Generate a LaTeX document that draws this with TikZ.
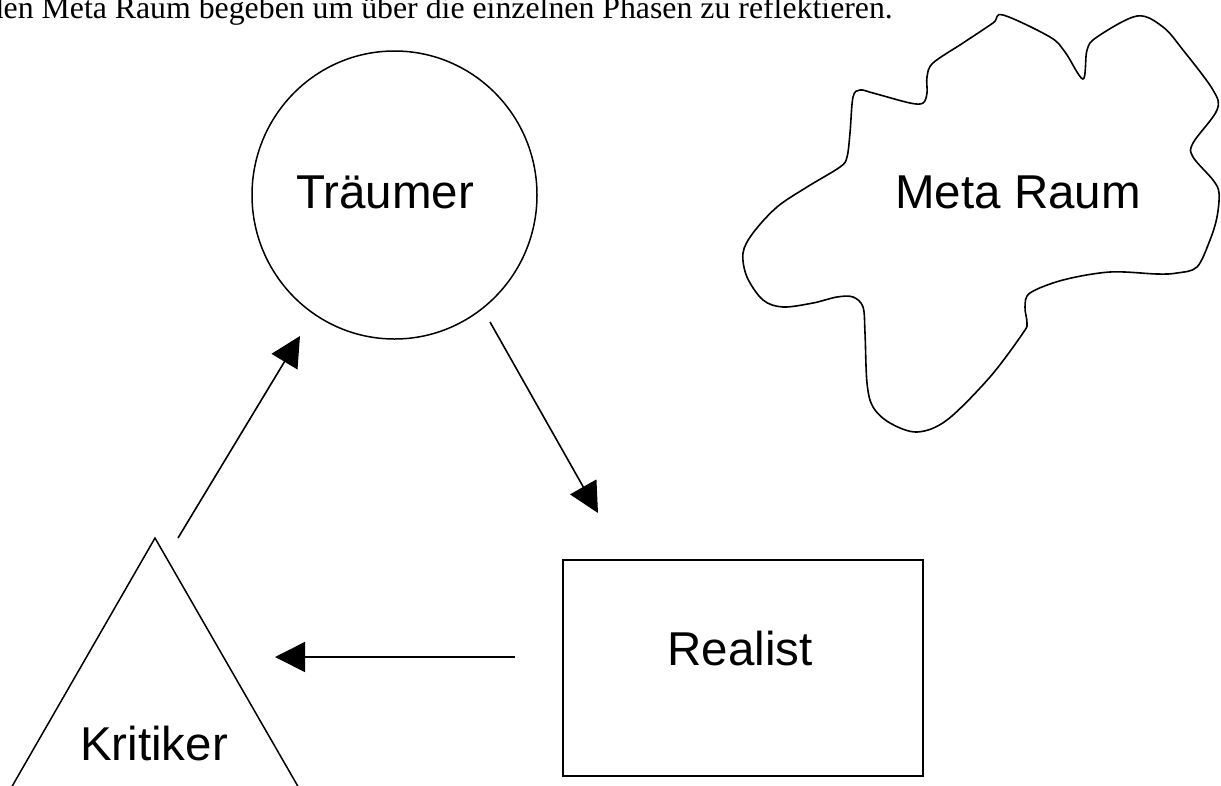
\documentclass[tikz,border=0pt]{standalone}
\usepackage{fontspec}
\setmainfont{Liberation Serif}
\newfontfamily\arial{Liberation Sans}
\usetikzlibrary{arrows.meta,shapes.geometric}
\tikzset{
  shapeline/.style={draw=black, line width=1.5pt},
  conn/.style={draw=black, line width=1.6pt, -{Triangle[length=30pt,width=30pt]}},
  lbl/.style={font=\arial\fontsize{47.5}{47.5}\selectfont, anchor=base, inner sep=0pt},
}
\begin{document}
\begin{tikzpicture}[x=1pt,y=-1pt]
\useasboundingbox (0,0) rectangle (1221,785);
\clip (0,0) rectangle (1221,785);
\fill[white] (0,0) rectangle (1221,785);
% top text line
\node[anchor=base east, inner sep=0pt, font=\fontsize{31.8}{31.8}\selectfont] (toptext) at (893,18.5)
  {den Meta Raum begeben um über die einzelnen Phasen zu reflektieren.};
% Traeumer
\node[shapeline, ellipse, minimum width=285pt, minimum height=288pt, inner sep=0pt] (traeumer) at (394.5,195) {};
\node[lbl] (traeumerlbl) at (385,208) {Träumer};
% Realist
\node[shapeline, rectangle, minimum width=360pt, minimum height=216pt, inner sep=0pt] (realist) at (743,668) {};
\node[lbl] (realistlbl) at (740,665) {Realist};
% Kritiker triangle
\coordinate (kapex) at (155,538);
\coordinate (kleft) at (-5,816);
\coordinate (kright) at (315,816);
\draw[shapeline, line join=miter] (kleft) -- (kapex) -- (kright);
\node[lbl] (kritikerlbl) at (154,760) {Kritiker};
% Meta Raum cloud
\draw[line width=1.6pt] plot[smooth cycle, tension=0.55] coordinates {
 (1003,15) (1050,37) (1065,52) (1083,79) (1087,50) (1097,37) (1137,16)
 (1163,27) (1183,50) (1213,90) (1217,110) (1193,143) (1193,157) (1213,180)
 (1219,193) (1217,217) (1210,240) (1197,267) (1177,273) (1157,274) (1110,272)
 (1063,280) (1030,293) (1025,307) (1027,323) (1023,333) (990,377) (947,420)
 (917,432) (890,423) (873,407) (867,383) (865,333) (863,307) (853,297)
 (837,297) (813,303) (783,307) (763,300) (747,277) (743,253) (753,233)
 (777,207) (807,187) (840,167) (847,157) (850,133) (853,97) (860,90)
 (873,93) (910,103) (923,103) (927,93) (927,77) (933,63) (963,43) (993,23)
};
\node[lbl] (metalbl) at (1018,208) {Meta Raum};
% connectors
\coordinate (c1s) at (178,538);
\coordinate (c1e) at (300,336);
\coordinate (c2s) at (490,322);
\coordinate (c2e) at (598,513);
\coordinate (c3s) at (515,657);
\coordinate (c3e) at (275,657);
\draw[conn] (c1s) -- (c1e);
\draw[conn] (c2s) -- (c2e);
\draw[conn] (c3s) -- (c3e);
\end{tikzpicture}
\end{document}
